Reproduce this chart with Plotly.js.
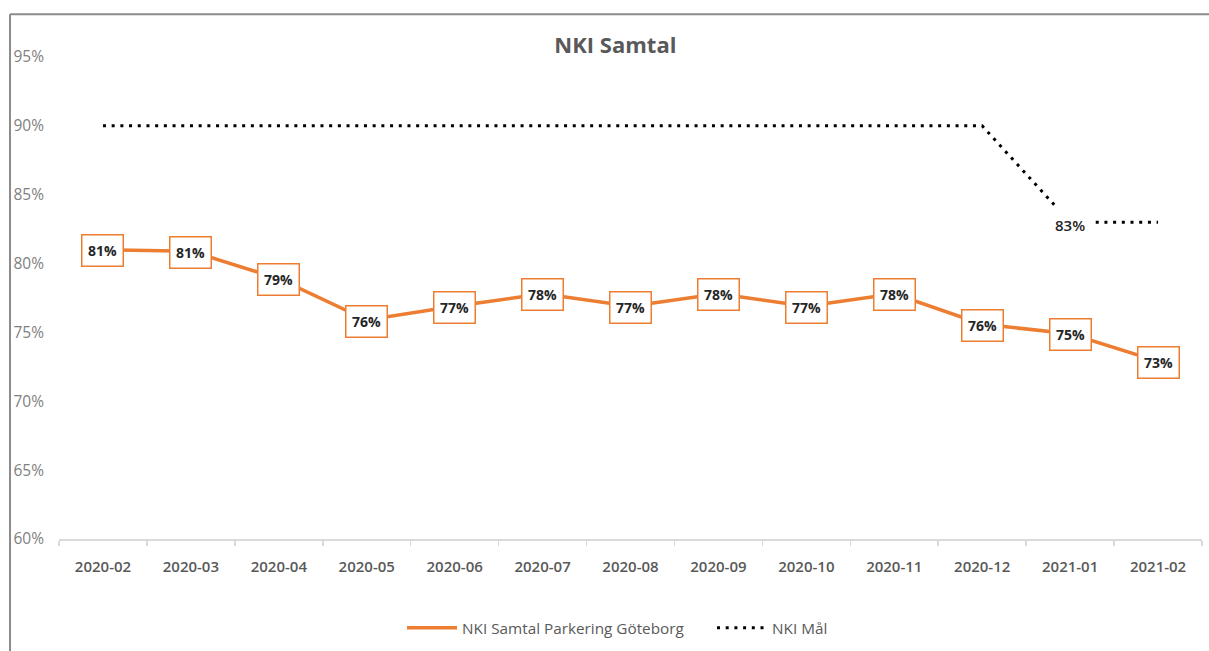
<!DOCTYPE html>
<html>
<head>
<meta charset="utf-8">
<script src="https://cdn.plot.ly/plotly-3.0.1.min.js"></script>
<style>
  html, body { margin: 0; padding: 0; background: #fff; }
  #chart { width: 1209px; height: 651px; }
</style>
</head>
<body>
<div id="chart"></div>
<script>
const months = ["2020-02","2020-03","2020-04","2020-05","2020-06","2020-07","2020-08","2020-09","2020-10","2020-11","2020-12","2021-01","2021-02"];
const nkiSamtal = [81, 80.9, 78.9, 75.9, 76.9, 77.8, 76.9, 77.8, 76.9, 77.8, 75.6, 74.9, 72.9];
const nkiMal = [90, 90, 90, 90, 90, 90, 90, 90, 90, 90, 90, 83, 83];
const malLabelIndex = 11;

const ORANGE = "#ED7D31";
const FONT = "Open Sans, DejaVu Sans, sans-serif";

const traces = [
  {
    x: months, y: nkiSamtal, type: "scatter", mode: "lines",
    name: "NKI Samtal Parkering Göteborg",
    line: { color: ORANGE, width: 3.5 },
    hoverinfo: "skip"
  },
  {
    x: months, y: nkiMal, type: "scatter", mode: "lines",
    name: "NKI Mål",
    line: { color: "#000000", width: 3, dash: "3px,5.7px" },
    hoverinfo: "skip"
  }
];

const annotations = months.map((m, i) => ({
  x: m, y: nkiSamtal[i], xref: "x", yref: "y",
  yshift: -1,
  text: "<b>" + Math.round(nkiSamtal[i]) + "%</b>",
  showarrow: false,
  font: { family: FONT, size: 14, color: "#262626" },
  bgcolor: "#ffffff", bordercolor: ORANGE, borderwidth: 1.5, borderpad: 5.5
}));
annotations.push({
  x: months[malLabelIndex], y: nkiMal[malLabelIndex], xref: "x", yref: "y",
  yshift: -3,
  text: Math.round(nkiMal[malLabelIndex]) + "%",
  showarrow: false,
  font: { family: FONT, size: 15, color: "#262626", weight: 600 },
  bgcolor: "#ffffff", borderwidth: 0, borderpad: 8
});

const layout = {
  width: 1209, height: 651,
  margin: { l: 59, r: 7, t: 57, b: 109 },
  paper_bgcolor: "#ffffff", plot_bgcolor: "#ffffff",
  showlegend: true,
  title: {
    text: "<b>NKI Samtal</b>",
    font: { family: FONT, size: 22, color: "#595959" },
    x: 0.509, xanchor: "center", y: 0.931, yanchor: "middle"
  },
  xaxis: {
    type: "category",
    range: [-0.5, 12.5],
    showgrid: false, zeroline: false,
    showline: true, linecolor: "#d9d9d9", linewidth: 1.5,
    ticks: "outside", tickson: "boundaries", ticklen: 5, tickcolor: "#d9d9d9", tickwidth: 1.5,
    tickfont: { family: FONT, size: 15, color: "#595959", weight: 600 },
    ticklabelstandoff: 13,
    fixedrange: true
  },
  yaxis: {
    range: [60, 95],
    dtick: 5, tick0: 60,
    ticksuffix: "%",
    showgrid: false, zeroline: false, showline: false,
    ticks: "",
    tickfont: { family: FONT, size: 15.5, color: "#7f7f7f" },
    ticklabelstandoff: 14,
    fixedrange: true
  },
  legend: {
    orientation: "h",
    x: (402 - 59) / 1143, xanchor: "left",
    y: -0.184, yanchor: "middle",
    font: { family: FONT, size: 15.3, color: "#595959" },
    itemwidth: 50,
    entrywidth: 245,
    traceorder: "normal"
  },
  annotations: annotations,
  shapes: [
    { type: "line", xref: "paper", yref: "paper",
      x0: (10 - 59) / 1143, x1: 1.01, y0: (542 - 14) / 485, y1: (542 - 14) / 485,
      line: { color: "#8c8c8c", width: 2 } },
    { type: "line", xref: "paper", yref: "paper",
      x0: (10 - 59) / 1143, x1: (10 - 59) / 1143, y0: (542 - 14) / 485, y1: -0.3,
      line: { color: "#8c8c8c", width: 2 } }
  ]
};

Plotly.newPlot("chart", traces, layout, { displayModeBar: false, staticPlot: true });
</script>
</body>
</html>
